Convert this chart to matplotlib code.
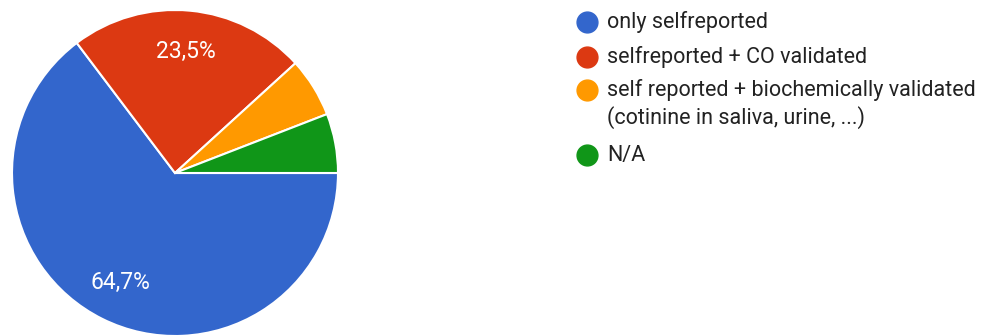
import matplotlib
matplotlib.use("Agg")
import matplotlib.pyplot as plt
import numpy as np

categories = ["only selfreported", "selfreported + CO validated",
              "self reported + biochemically validated\n(cotinine in saliva, urine, ...)", "N/A"]
values = [11, 4, 1, 1]
colors = ["#3366cc", "#dc3912", "#ff9900", "#109618"]

W, H = 987, 336
plt.rcParams['font.family'] = ['Roboto', 'DejaVu Sans']
fig = plt.figure(figsize=(W / 100, H / 100), dpi=100)

cx, cy, r = 175, 173, 163
ax = fig.add_axes([(cx - r) / W, (H - cy - r) / H, 2 * r / W, 2 * r / H])

def fmt(p):
    return ("%.1f%%" % p).replace(".", ",") if p > 10 else ""

wedges, texts, autotexts = ax.pie(values, colors=colors, startangle=0, counterclock=False,
                                  autopct=fmt, pctdistance=0.75,
                                  wedgeprops=dict(edgecolor="white", linewidth=1.5))
for t in autotexts:
    t.set_color("white")
    t.set_fontsize(16.5)
ax.set_xlim(-1, 1)
ax.set_ylim(-1, 1)
ax.set_aspect("equal")

# legend in pixel coordinates
lax = fig.add_axes([0, 0, 1, 1])
lax.set_xlim(0, W)
lax.set_ylim(H, 0)
lax.axis("off")
rows_y = [22, 57, 90, 155]
fs = 15.5
for cat, col, y in zip(categories, colors, rows_y):
    lax.plot([587], [y], "o", color=col, markersize=15)
    lines = cat.split("\n")
    for i, line in enumerate(lines):
        lax.text(607, y + 28 * i, line, va="center", ha="left", fontsize=fs, color="#222222")

fig.savefig("out.png", dpi=100)
